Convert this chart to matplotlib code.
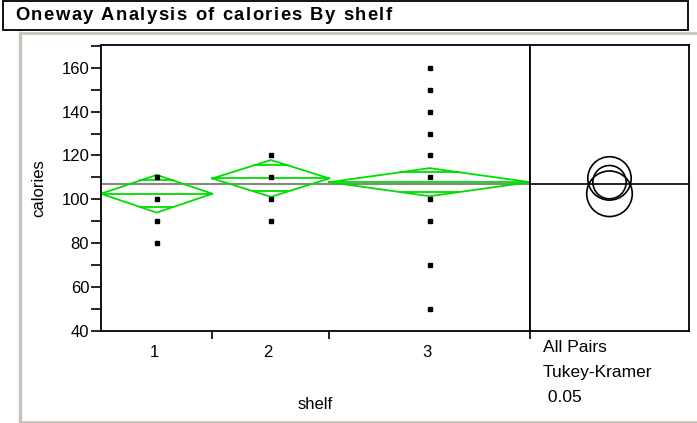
import numpy as np
import matplotlib
matplotlib.use("Agg")
import matplotlib.pyplot as plt
from matplotlib.patches import Rectangle, Circle

plt.rcParams["font.family"] = ["Liberation Sans", "DejaVu Sans"]

# ---------------------------------------------------------------------------
# Data
# ---------------------------------------------------------------------------
shelves = ["1", "2", "3"]
counts = [20, 21, 36]
means = [102.5, 109.5, 107.8]
ci_half = [8.6, 8.4, 6.4]          # 95% CI half-widths of the means diamonds
grand_mean = 106.9
tk_radius = [10.4, 9.9, 7.6]       # Tukey-Kramer comparison circle radii

points = {
    "1": [80, 90, 100, 110],
    "2": [90, 100, 110, 120],
    "3": [50, 70, 90, 100, 110, 120, 130, 140, 150, 160],
}

TITLE = "Oneway Analysis of calories By shelf"
GREEN = "#00dd00"
FRAME = "#c8c4bb"
W, H = 697, 423


def px(x0, y0, x1, y1):
    """pixel box (top-left origin) -> figure fraction rect"""
    return [x0 / W, 1 - y1 / H, (x1 - x0) / W, (y1 - y0) / H]


fig = plt.figure(figsize=(W / 100, H / 100), dpi=100)
renderer = fig.canvas.get_renderer()

# background decorations: title box + outer frame
deco = fig.add_axes([0, 0, 1, 1])
deco.set_xlim(0, W)
deco.set_ylim(H, 0)
deco.axis("off")
deco.add_patch(Rectangle((3, 0.7), 685, 29, fill=False, ec="black", lw=1.3))
deco.plot([20, W], [33, 33], color=FRAME, lw=2)
deco.plot([20, 20], [33, 422], color=FRAME, lw=2.5)
deco.plot([20, W], [422, 422], color=FRAME, lw=2)

# title drawn letter by letter with loose tracking, like the JMP header
title_left, title_right = 15, 392
chars = []
widths = []
for ch in TITLE:
    t = deco.text(0, 15.5, ch, fontsize=13.2, fontweight="bold", va="center", ha="left")
    chars.append(t)
    w = t.get_window_extent(renderer).width if ch != " " else 5.0
    widths.append(w)
track = (title_right - title_left - sum(widths)) / (len(TITLE) - 1)
x = title_left
for t, w in zip(chars, widths):
    t.set_x(x)
    x += w + track

# ---------------------------------------------------------------------------
# Main oneway panel
# ---------------------------------------------------------------------------
ylo, yhi = 40, 170.4
ax = fig.add_axes(px(101, 45, 530, 330.7))
ax.set_ylim(ylo, yhi)
edges = np.concatenate([[0], np.cumsum(counts)])
ax.set_xlim(edges[0], edges[-1])

for i, s in enumerate(shelves):
    x0, x1 = edges[i], edges[i + 1]
    xc = (x0 + x1) / 2
    m, c = means[i], ci_half[i]
    ax.plot([x0, xc, x1, xc, x0], [m, m + c, m, m - c, m], color=GREEN, lw=1.3)
    ax.plot([x0, x1], [m, m], color=GREEN, lw=1.3)
    off = c / np.sqrt(2)
    hw = (x1 - x0) / 2 * (1 - 1 / np.sqrt(2))
    ax.plot([xc - hw, xc + hw], [m + off, m + off], color=GREEN, lw=1.3)
    ax.plot([xc - hw, xc + hw], [m - off, m - off], color=GREEN, lw=1.3)
    ys = points[s]
    ax.plot([xc] * len(ys), ys, ls="none", marker="s", ms=2.6, color="black")

ax.axhline(grand_mean, color="#888888", lw=1.5, zorder=1)

ax.set_yticks(np.arange(40, 161, 20))
ax.set_yticks(np.arange(50, 171, 10), minor=True)
ax.tick_params(axis="y", which="both", length=7, width=1.2, labelsize=12, pad=1.5)

centers = (edges[:-1] + edges[1:]) / 2
ax.set_xticks(edges[1:-1])
ax.set_xticklabels([])
ax.set_xticks(centers - 0.5, minor=True)
ax.set_xticklabels(shelves, minor=True)
ax.tick_params(axis="x", which="major", length=6, width=1.2)
ax.tick_params(axis="x", which="minor", length=0, labelsize=12, pad=10)
for sp in ax.spines.values():
    sp.set_linewidth(1.3)
ax.set_ylabel("calories", fontsize=12, labelpad=11)
ax.set_xlabel("shelf", fontsize=12, labelpad=27)

# ---------------------------------------------------------------------------
# Comparison circles panel
# ---------------------------------------------------------------------------
cx = fig.add_axes(px(530, 45, 689, 330.7))
cx.set_ylim(ylo, yhi)
# x span chosen so one x unit has the same pixel length as one y unit
span = (yhi - ylo) * (689 - 530) / (330.7 - 45)
cx.set_xlim(-span / 2, span / 2)
cx.set_xticks([0 - span / 2])
cx.set_xticklabels([])
cx.tick_params(axis="x", length=6, width=1.2)
cx.set_yticks([])
for sp in cx.spines.values():
    sp.set_linewidth(1.3)
cx.axhline(grand_mean, color="black", lw=1.2)
for m, r in zip(means, tk_radius):
    cx.add_patch(Circle((0, m), r, fill=False, ec="black", lw=1.2))

deco.text(543, 347, "All Pairs", fontsize=12.5, va="center", ha="left")
deco.text(543, 373, "Tukey-Kramer", fontsize=12.5, va="center", ha="left")
deco.text(543, 398, " 0.05", fontsize=12.5, va="center", ha="left")

fig.savefig("out.png", dpi=100)
